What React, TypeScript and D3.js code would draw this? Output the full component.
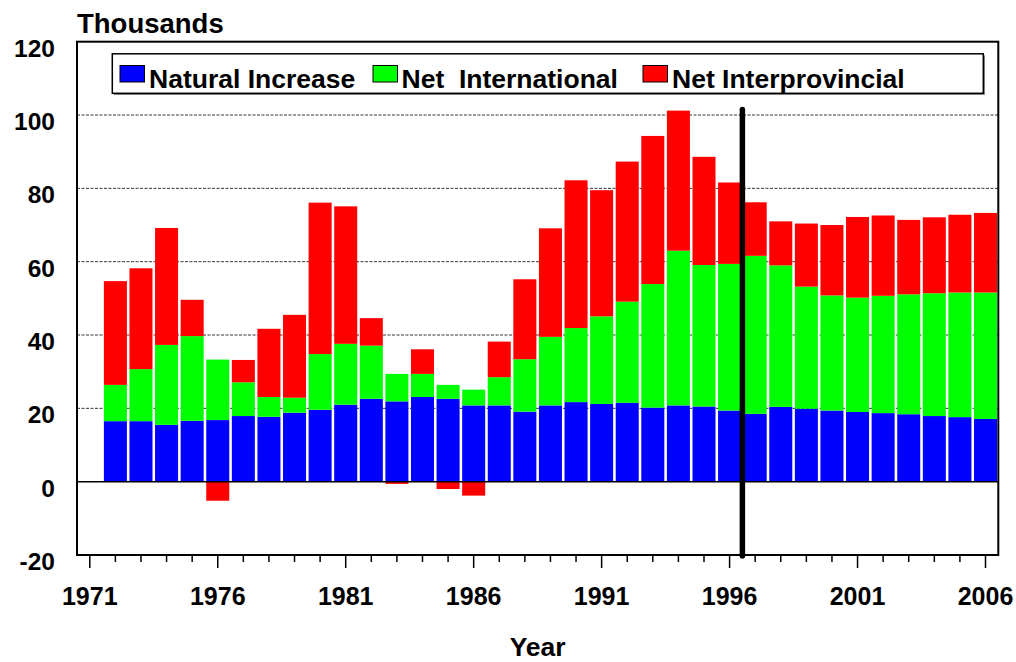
import React from "react";
import * as d3 from "d3";

const years = [1972,1973,1974,1975,1976,1977,1978,1979,1980,1981,1982,1983,1984,1985,1986,1987,1988,1989,1990,1991,1992,1993,1994,1995,1996,1997,1998,1999,2000,2001,2002,2003,2004,2005,2006];
const naturalIncrease = [16.5,16.5,15.5,16.6,16.8,17.9,17.7,18.8,19.6,21.0,22.6,21.9,23.1,22.6,20.8,20.8,19.1,20.8,21.7,21.2,21.5,20.2,20.8,20.5,19.4,18.5,20.4,19.9,19.4,19.0,18.7,18.4,17.9,17.6,17.1];
const netInternational = [9.9,14.2,21.8,23.1,16.5,9.2,5.4,4.1,15.2,16.6,14.5,7.5,6.3,3.8,4.3,7.7,14.3,18.7,20.2,23.9,27.6,33.7,42.2,38.6,40.0,43.1,38.6,33.3,31.4,31.2,32.0,32.7,33.5,34.0,34.5];
const netInterprovincial = [28.3,27.5,31.9,9.9,-5.2,6.1,18.6,22.6,41.3,37.5,7.5,-0.6,6.7,-2.0,-3.8,9.7,21.8,29.6,40.3,34.4,38.2,40.4,38.2,29.5,22.2,14.6,12.0,17.2,19.2,22.0,21.9,20.3,20.7,21.2,21.7];

const yTicks = [-20, 0, 20, 40, 60, 80, 100, 120];
const xLabelYears = [1971, 1976, 1981, 1986, 1991, 1996, 2001, 2006];
const tickYears = d3.range(1971, 2007);
const seriesNames = ["Natural Increase", "Net  International", "Net Interprovincial"];
const seriesColors = ["#0000FF", "#00FF00", "#FF0000"];
const projectionYear = 1996.5;
const projectionTop = 101.5;

const FONT = "'Liberation Sans', Arial, Helvetica, sans-serif";

export default function App() {
  const left = 77, right = 998.3, top = 41.7, bottom = 555;
  const x = d3.scaleLinear().domain([1970.5, 2006.5]).range([left, right]);
  const y = d3.scaleLinear().domain([-20, 120]).range([bottom, top]);
  const slot = x(1972) - x(1971);
  const bw = slot * 0.9;

  const bars: { x: number; y0: number; y1: number; color: string; key: string }[] = [];
  years.forEach((yr, i) => {
    const ni = naturalIncrease[i];
    const intl = netInternational[i];
    const ip = netInterprovincial[i];
    bars.push({ x: x(yr), y0: 0, y1: ni, color: seriesColors[0], key: `n${yr}` });
    bars.push({ x: x(yr), y0: ni, y1: ni + intl, color: seriesColors[1], key: `i${yr}` });
    if (ip >= 0) {
      bars.push({ x: x(yr), y0: ni + intl, y1: ni + intl + ip, color: seriesColors[2], key: `p${yr}` });
    } else {
      bars.push({ x: x(yr), y0: ip, y1: 0, color: seriesColors[2], key: `p${yr}` });
    }
  });

  const legendItems = [
    { sx: 120, tx: 149 },
    { sx: 373, tx: 401.5 },
    { sx: 643, tx: 672 },
  ];

  return (
    <svg width={1016} height={662} style={{ position: "absolute", left: 0, top: 0, background: "#fff" }} fontFamily={FONT}>
      <rect x={0} y={0} width={1016} height={662} fill="#fff" />
      {/* gridlines */}
      {yTicks.filter(v => v > 0 && v < 120).map(v => (
        <line key={`g${v}`} x1={left} x2={right} y1={y(v)} y2={y(v)} stroke="#333" strokeWidth={1} strokeDasharray="3,1.5" />
      ))}
      {/* bars */}
      {bars.map(b => (
        <rect key={b.key} x={b.x - bw / 2} width={bw} y={y(Math.max(b.y0, b.y1))} height={Math.abs(y(b.y0) - y(b.y1))} fill={b.color} />
      ))}
      {/* zero line */}
      <line x1={left} x2={right} y1={y(0)} y2={y(0)} stroke="#000" strokeWidth={1.5} />
      {/* plot border */}
      <rect x={left} y={top} width={right - left} height={bottom - top} fill="none" stroke="#000" strokeWidth={2} />
      {/* x ticks */}
      {tickYears.map(yr => {
        const major = xLabelYears.includes(yr);
        return <line key={`t${yr}`} x1={x(yr)} x2={x(yr)} y1={bottom} y2={bottom + (major ? 13 : 7)} stroke="#000" strokeWidth={1.5} />;
      })}
      {/* projection line */}
      <line x1={x(projectionYear)} x2={x(projectionYear)} y1={y(projectionTop)} y2={bottom + 1} stroke="#000" strokeWidth={5.5} strokeLinecap="round" />
      {/* y labels */}
      {yTicks.map(v => (
        <text key={`yl${v}`} x={55} y={y(v) + 15} textAnchor="end" fontSize={24.5} fontWeight="bold" fill="#000">{v}</text>
      ))}
      {/* x labels */}
      {xLabelYears.map(yr => (
        <text key={`xl${yr}`} x={x(yr)} y={605} textAnchor="middle" fontSize={25} fontWeight="bold" fill="#000">{yr}</text>
      ))}
      <text x={(left + right) / 2} y={656} textAnchor="middle" fontSize={26.5} fontWeight="bold" fill="#000">Year</text>
      <text x={77} y={33} fontSize={27.5} fontWeight="bold" fill="#000">Thousands</text>
      {/* legend */}
      <rect x={113.8} y={55.3} width={871} height={39.5} fill="#666" />
      <rect x={112.3} y={53.8} width={871} height={39.5} fill="#fff" stroke="#000" strokeWidth={1.5} />
      {seriesNames.map((name, i) => (
        <g key={name}>
          <rect x={legendItems[i].sx} y={65.5} width={24.5} height={16.5} fill={seriesColors[i]} stroke="#000" strokeWidth={1} />
          <text x={legendItems[i].tx} y={88} fontSize={26.5} fontWeight="bold" fill="#000" style={{ whiteSpace: "pre" }}>{name}</text>
        </g>
      ))}
    </svg>
  );
}
